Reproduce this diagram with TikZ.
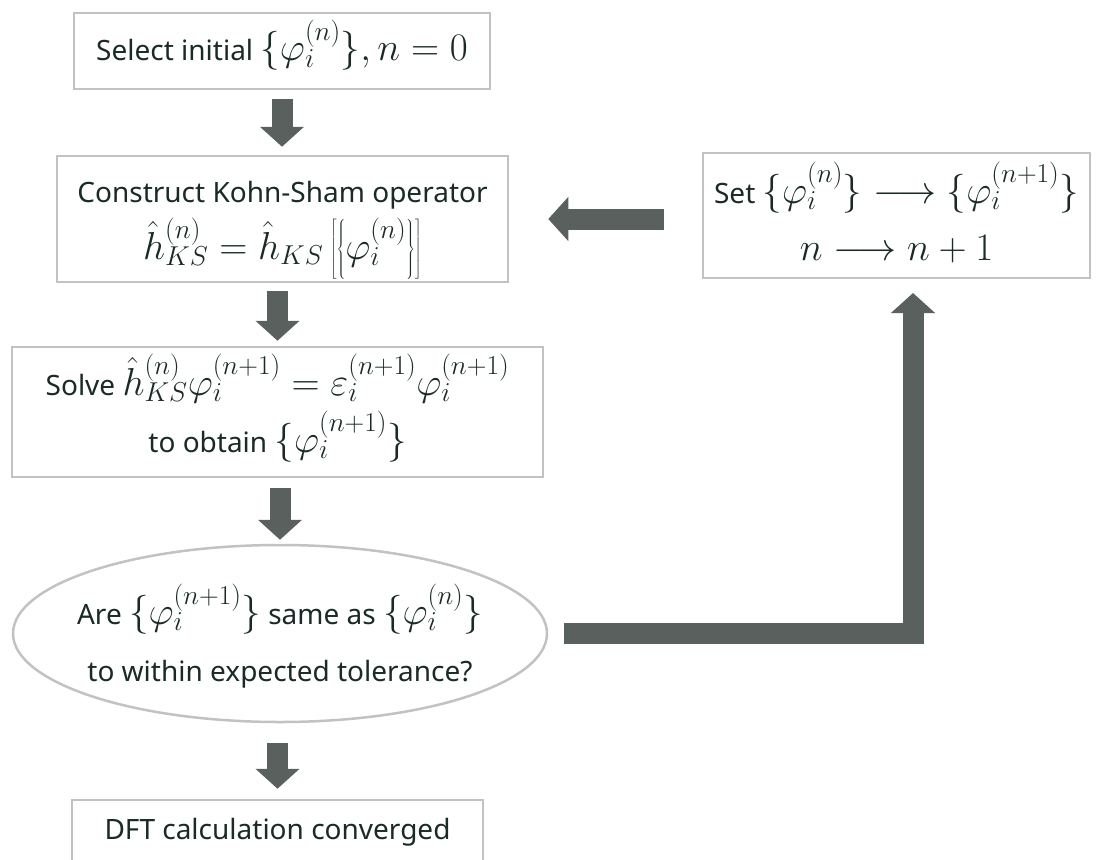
\RequirePackage{fix-cm}
\documentclass[tikz,border=0pt]{standalone}
\usepackage{fontspec}
\setmainfont{Noto Sans}
\usetikzlibrary{arrows.meta,shapes.geometric}
\definecolor{boxgray}{HTML}{C2C2C2}
\definecolor{arrowgray}{HTML}{5A605E}
\definecolor{textc}{HTML}{1A2B27}
\newcommand{\phiset}[1]{\Big\{\varphi_i^{(#1)}\Big\}}
\newcommand{\mth}[1]{{\fontsize{39}{46}\selectfont$#1$}}
\begin{document}
\begin{tikzpicture}[x=1pt,y=-1pt,
  box/.style={draw=boxgray,line width=2.5pt,inner sep=0pt,align=center,text=textc,
    font={\fontsize{28}{57}\selectfont\lineskiplimit=-80pt}},
  blk/.style={draw=arrowgray,line width=21pt,line join=miter,
    -{Triangle[length=20pt,width=43pt]}}]
\clip (0,0) rectangle (1097,859);
\useasboundingbox (0,0) rectangle (1097,859);

\node[box,minimum width=416pt,minimum height=76pt,text height=20pt,text depth=0pt] (b1) at (282,51)
  {Select initial \mth{\phiset{n}, n=0}};
\node[box,minimum width=451pt,minimum height=126pt,text height=80pt,text depth=0pt] (b2) at (282.5,219)
  {Construct Kohn-Sham operator\\
   \mth{\hat{h}_{KS}^{(n)}=\hat{h}_{KS}\left[\left\{\varphi_i^{(n)}\rule[-12pt]{0pt}{40pt}\right\}\right]}};
\node[box,minimum width=531pt,minimum height=130pt,text height=80pt,text depth=0pt] (b3) at (277.5,412)
  {Solve \mth{\hat{h}_{KS}^{(n)}\varphi_i^{(n+1)}=\varepsilon_i^{(n+1)}\varphi_i^{(n+1)}}\\
   to obtain \mth{\phiset{n+1}}};
\node[box,ellipse,inner xsep=-24pt,inner ysep=0pt,minimum width=534pt,minimum height=177pt,
      text height=96pt,text depth=0pt] (ell) at (280,633.5)
  {Are \mth{\phiset{n+1}} same as \mth{\phiset{n}}\\
   to within expected tolerance?};
\node[box,minimum width=411pt,minimum height=64pt] (b5) at (277.5,832)
  {DFT calculation converged};
\node[box,minimum width=387pt,minimum height=125pt,text height=89pt,text depth=0pt] (b6) at (896.5,215.5)
  {Set \mth{\phiset{n}\longrightarrow\phiset{n+1}}\\
   \mth{n\longrightarrow n+1}};

\draw[blk,shorten <=9pt,shorten >=8pt] (b1.south) -- (b1.south |- b2.north);
\draw[blk,shorten <=8pt,shorten >=5pt] (b2.south -| b3.north) -- (b3.north);
\draw[blk,shorten <=10pt,shorten >=4pt] (b3.south -| ell.north) -- (ell.north);
\draw[blk,shorten <=20pt,shorten >=10pt] (ell.south -| b5.north) -- (b5.north);
\draw[blk,shorten <=38pt,shorten >=39pt] (b6.west |- b2.east) -- (b2.east);
\coordinate (up) at (913,278);
\draw[blk,shorten >=15pt] ([xshift=16pt]ell.east) -| (up);
\end{tikzpicture}
\end{document}
